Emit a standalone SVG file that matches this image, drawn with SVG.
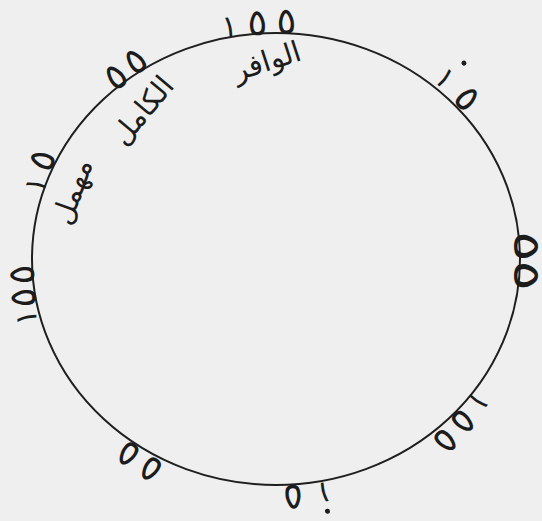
<svg xmlns="http://www.w3.org/2000/svg" width="542" height="521" viewBox="0 0 542 521">
  <style>
    .mark { font-family: "DejaVu Sans", "Noto Sans", sans-serif; font-size: 37px; fill: #1c1c1c; text-anchor: middle; }
    .one { font-size: 30px; }
    .word { font-family: "DejaVu Sans", "Noto Sans", sans-serif; font-size: 29px; fill: #1c1c1c; text-anchor: middle; }
    .ring { fill: none; stroke: #1f1f1f; stroke-width: 2; }
    .dot { fill: #1c1c1c; }
  </style>
  <rect width="542" height="521" fill="#efefef"/>
  <g id="circle">
    <ellipse class="ring" cx="276" cy="259" rx="244" ry="226"/>
  </g>
  <g id="top-mark" transform="translate(260,35) rotate(-3)">
    <text class="mark" y="0"><tspan class="one" x="-30">١</tspan><tspan x="-2">٥</tspan><tspan x="27">٥</tspan></text>
  </g>
  <g id="wafir" transform="translate(267,62) rotate(-18)">
    <text class="word" x="0" y="9">الوافر</text>
  </g>
  <g id="upper-left-mark" transform="translate(127,83) rotate(-38)">
    <text class="mark" y="0"><tspan x="-5">٥</tspan><tspan x="20">٥</tspan></text>
  </g>
  <g id="kamil" transform="translate(143,111) rotate(-50)">
    <text class="word" x="0" y="9">الكامل</text>
  </g>
  <g id="left-upper-mark" transform="translate(51,172) rotate(-70)">
    <text class="mark" y="0"><tspan class="one" x="-17">١</tspan><tspan x="8">٥</tspan></text>
  </g>
  <g id="muhmal" transform="translate(73,192) rotate(-70)">
    <text class="word" x="0" y="9">مهمل</text>
  </g>
  <g id="left-mark" transform="translate(35,292) rotate(-93)">
    <text class="mark" y="0"><tspan class="one" x="-25">١</tspan><tspan x="-5">٥</tspan><tspan x="18">٥</tspan></text>
  </g>
  <g id="top-right-mark" transform="translate(450,98) rotate(47)">
    <text class="mark" y="0"><tspan class="one" x="-18">١</tspan><tspan x="12">٥</tspan></text>
    <circle class="dot" cx="-16" cy="-34" r="2.5"/>
  </g>
  <g id="right-mark" transform="translate(514,261) rotate(90) scale(1.55,1)">
    <text class="mark" y="0" font-size="26"><tspan x="-9.4">٥</tspan><tspan x="9.4">٥</tspan></text>
  </g>
  <g id="bottom-right-mark" transform="translate(453,415) rotate(132)">
    <text class="mark" y="0"><tspan class="one" x="-27">١</tspan><tspan x="-2">٥</tspan><tspan x="24">٥</tspan></text>
  </g>
  <g id="bottom-mark" transform="translate(305,484) rotate(175)">
    <text class="mark" y="0"><tspan class="one" x="-18">١</tspan><tspan x="13">٥</tspan></text>
    <circle class="dot" cx="-20" cy="-29" r="2.5"/>
  </g>
  <g id="bottom-left-mark" transform="translate(139,447) rotate(214)">
    <text class="mark" y="0"><tspan x="-22">٥</tspan><tspan x="5">٥</tspan></text>
  </g>
</svg>
